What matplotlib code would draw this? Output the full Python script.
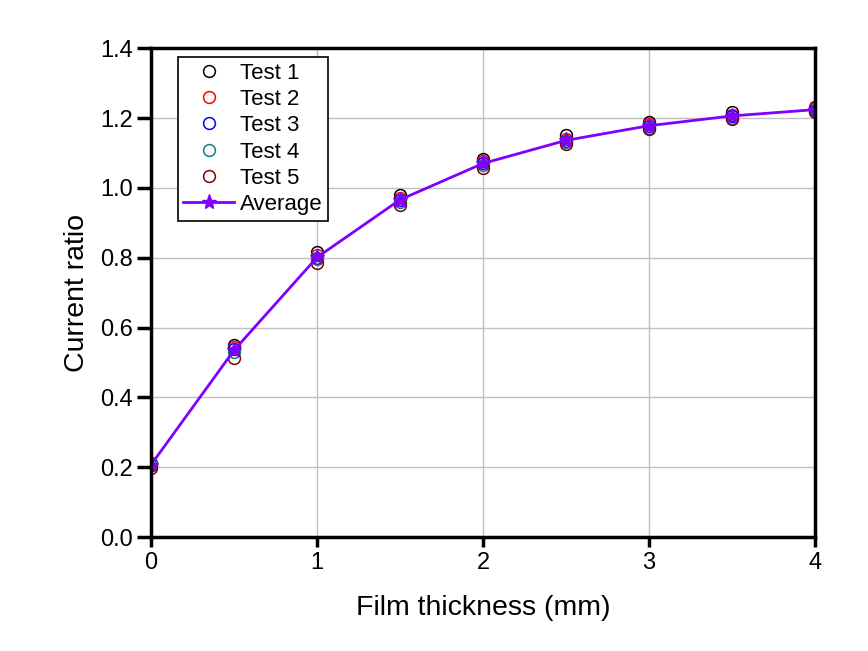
import matplotlib
matplotlib.use("Agg")
import matplotlib.pyplot as plt

plt.rcParams['font.family'] = ['Liberation Sans', 'DejaVu Sans']

thickness = [0, 0.5, 1, 1.5, 2, 2.5, 3, 3.5, 4]
test1 = [0.205, 0.550, 0.815, 0.980, 1.082, 1.150, 1.190, 1.218, 1.232]
test2 = [0.210, 0.545, 0.808, 0.972, 1.076, 1.140, 1.182, 1.210, 1.228]
test3 = [0.212, 0.538, 0.800, 0.965, 1.070, 1.135, 1.176, 1.205, 1.224]
test4 = [0.208, 0.530, 0.795, 0.960, 1.065, 1.130, 1.172, 1.200, 1.220]
test5 = [0.198, 0.512, 0.785, 0.952, 1.058, 1.125, 1.168, 1.196, 1.216]
average = [0.207, 0.535, 0.801, 0.966, 1.070, 1.136, 1.178, 1.206, 1.224]

series = [("Test 1", test1, "black"), ("Test 2", test2, "red"),
          ("Test 3", test3, "blue"), ("Test 4", test4, "#108080"),
          ("Test 5", test5, "#800000")]

fig = plt.figure(figsize=(8.68, 6.51), dpi=100)
ax = fig.add_axes([0.174, 0.175, 0.765, 0.751])

for name, vals, col in series:
    ax.plot(thickness, vals, linestyle='none', marker='o', markersize=8.5,
            markerfacecolor='none', markeredgecolor=col, markeredgewidth=1.1,
            label=name, zorder=3)
ax.plot(thickness, average, color='#8000ff', linewidth=2, marker='*',
        markersize=11, label='Average', zorder=4)

ax.set_xlim(0, 4)
ax.set_ylim(0, 1.4)
ax.set_xticks([0, 1, 2, 3, 4])
ax.set_yticks([0, 0.2, 0.4, 0.6, 0.8, 1.0, 1.2, 1.4])
ax.set_yticklabels(['0.0', '0.2', '0.4', '0.6', '0.8', '1.0', '1.2', '1.4'])
ax.grid(True, color='#c0c0c0', linewidth=1)
ax.set_axisbelow(True)
for s in ax.spines.values():
    s.set_linewidth(2.5)
    s.set_zorder(5)
ax.tick_params(axis='y', direction='out', length=10, width=2.5, labelsize=17, pad=3)
ax.tick_params(axis='x', direction='out', length=7, width=2.5, labelsize=17, pad=4)
ax.set_xlabel('Film thickness (mm)', fontsize=20.5, labelpad=15)
ax.set_ylabel('Current ratio', fontsize=20.5, labelpad=7)

leg = ax.legend(loc='upper left', bbox_to_anchor=(0.04, 0.982), fontsize=16,
                frameon=True, fancybox=False, edgecolor='black',
                handlelength=2.3, borderpad=0.25, labelspacing=0.24,
                handletextpad=0.25, borderaxespad=0.0, framealpha=1)
leg.get_frame().set_linewidth(1.2)

fig.savefig('out.png', dpi=100)
